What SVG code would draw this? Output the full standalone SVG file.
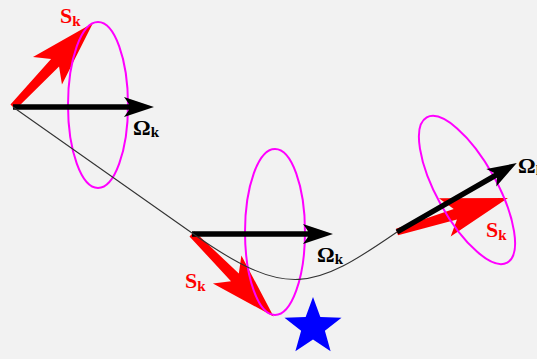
<svg xmlns="http://www.w3.org/2000/svg" xmlns:xlink="http://www.w3.org/1999/xlink" width="537" height="359" viewBox="0 0 537 359">
<style>
.bg{fill:#f2f2f2}
.ring{fill:none;stroke:#ff00ff;stroke-width:2}
.spin{fill:#ff0000}
.omega{fill:#000}
.path{fill:none;stroke:#333;stroke-width:1.1}
.lbl{font-family:"Liberation Serif","DejaVu Serif",serif;font-weight:bold;font-size:22px}
.sub{font-size:15px}
.red{fill:#ff0000}
.blk{fill:#000}
</style>
<defs>
<path id="redArrow" d="M0,-3.5 L61,-5.5 L50,-20 L116,0 L50,20 L61,5.5 L0,3.5 Z"/>
<path id="blkArrow" d="M0,-2.7 L116,-2.7 Q114,-6 111,-10 L141,0 L111,10 Q114,6 116,2.7 L0,2.7 Z"/>
</defs>
<rect class="bg" x="0" y="0" width="537" height="359"/>
<g id="node1">
<use xlink:href="#redArrow" class="spin" transform="translate(13,107) rotate(-46.4)"/>
<ellipse class="ring" cx="98" cy="105" rx="30" ry="83"/>
<use xlink:href="#blkArrow" class="omega" transform="translate(13,107)"/>
<text class="lbl red" x="60" y="23">S<tspan class="sub" dy="3">k</tspan></text>
<text class="lbl blk" x="133" y="135">Ω<tspan class="sub" dy="2">k</tspan></text>
</g>
<g id="node2">
<use xlink:href="#redArrow" class="spin" transform="translate(192,234) rotate(45.3)"/>
<ellipse class="ring" cx="275" cy="232" rx="30" ry="83"/>
<use xlink:href="#blkArrow" class="omega" transform="translate(192,234)"/>
<text class="lbl red" x="185" y="288">S<tspan class="sub" dy="3">k</tspan></text>
<text class="lbl blk" x="317" y="262">Ω<tspan class="sub" dy="2">k</tspan></text>
</g>
<g id="node3">
<use xlink:href="#redArrow" class="spin" transform="translate(397,232) rotate(-17)"/>
<ellipse class="ring" cx="467" cy="190" rx="30" ry="83" transform="rotate(-29 467 190)"/>
<use xlink:href="#blkArrow" class="omega" transform="translate(397,232) rotate(-29.9) scale(0.98,1)"/>
<text class="lbl red" x="486" y="237">S<tspan class="sub" dy="3">k</tspan></text>
<text class="lbl blk" x="518" y="173">Ω<tspan class="sub" dy="2">k</tspan></text>
</g>
<g id="star">
<polygon fill="#0000ff" points="313,297 320.35,316.89 341.53,317.73 324.89,330.86 330.63,351.27 313,339.5 295.37,351.27 301.11,330.86 284.47,317.73 305.65,316.89"/>
</g>
<g id="connectors">
<path class="path" d="M13,107 L192,233 C287,300 313,290 397,232"/>
</g>
</svg>
